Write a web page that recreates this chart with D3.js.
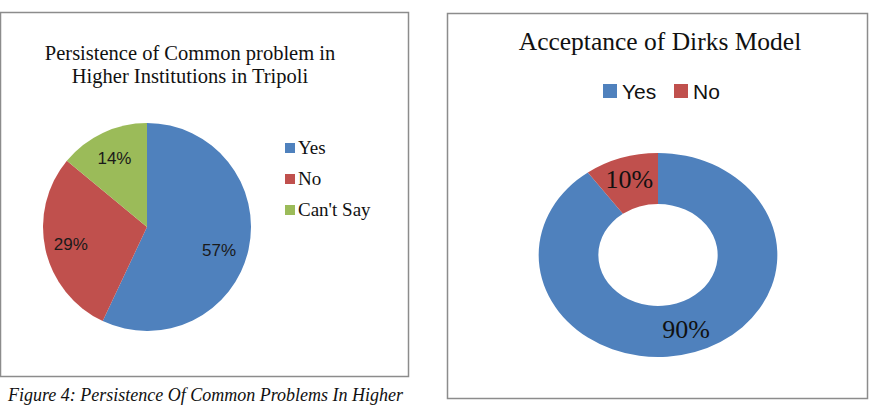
<!DOCTYPE html>
<html>
<head>
<meta charset="utf-8">
<script src="https://cdn.jsdelivr.net/npm/d3@7"></script>
<style>
  body { margin: 0; background: #fff; }
  svg { display: block; }
</style>
</head>
<body>
<div id="chart"></div>
<script>
// data
var pieLabels = ["Yes", "No", "Can't Say"];
var pieValues = [57, 29, 14];
var donutLabels = ["Yes", "No"];
var donutValues = [90, 10];
var colors = ["#4F81BD", "#C0504D", "#9BBB59"];

var width = 874, height = 406;
var serif = "'Liberation Serif', 'Times New Roman', serif";
var sans = "'Liberation Sans', Arial, sans-serif";

var svg = d3.select("#chart")
    .append("svg")
    .attr("width", width)
    .attr("height", height);

var color = d3.scaleOrdinal().domain(pieLabels).range(colors);

// ---------- left panel: pie ----------
var left = svg.append("g");

left.append("rect")
    .attr("x", 0.5).attr("y", 12.5)
    .attr("width", 408).attr("height", 364)
    .attr("fill", "none")
    .attr("stroke", "#8c8c8c")
    .attr("stroke-width", 1.5);

left.append("text")
    .attr("x", 190).attr("y", 60)
    .attr("text-anchor", "middle")
    .style("font-family", serif)
    .style("font-size", "20.5px")
    .attr("fill", "#111")
    .text("Persistence of Common problem in");

left.append("text")
    .attr("x", 190).attr("y", 83)
    .attr("text-anchor", "middle")
    .style("font-family", serif)
    .style("font-size", "20.5px")
    .attr("fill", "#111")
    .text("Higher Institutions in Tripoli");

var pie = d3.pie().sort(null).value(function (d) { return d; });
var pieData = pie(pieValues);
var r1 = 104;

var pieG = left.append("g")
    .attr("transform", "translate(147,227)");

pieG.selectAll("path")
    .data(pieData)
    .join("path")
    .attr("d", d3.arc().innerRadius(0).outerRadius(r1))
    .attr("fill", function (d, i) { return color(pieLabels[i]); });

// label radius and a small nudge so they sit where the original ones are
var pieLabelR = [0.71, 0.75, 0.735];
var pieLabelDy = [7, 0, 0];

pieG.selectAll("text.lbl")
    .data(pieData)
    .join("text")
    .attr("class", "lbl")
    .attr("transform", function (d, i) {
        var a = d3.arc().innerRadius(r1 * pieLabelR[i]).outerRadius(r1 * pieLabelR[i]);
        var c = a.centroid(d);
        return "translate(" + c[0] + "," + (c[1] + pieLabelDy[i]) + ")";
    })
    .attr("text-anchor", "middle")
    .attr("dy", "0.35em")
    .style("font-family", sans)
    .style("font-size", "17px")
    .attr("fill", "#1a1a1a")
    .text(function (d) { return d.data + "%"; });

var legend1 = left.append("g")
    .attr("transform", "translate(285,148)");

legend1.selectAll("rect")
    .data(pieLabels)
    .join("rect")
    .attr("x", 0)
    .attr("y", function (d, i) { return i * 31 - 5; })
    .attr("width", 10).attr("height", 10)
    .attr("fill", function (d) { return color(d); });

legend1.selectAll("text")
    .data(pieLabels)
    .join("text")
    .attr("x", 13)
    .attr("y", function (d, i) { return i * 31 + 6; })
    .style("font-family", serif)
    .style("font-size", "19px")
    .attr("fill", "#111")
    .text(function (d) { return d; });

svg.append("text")
    .attr("x", 8).attr("y", 401)
    .style("font-family", serif)
    .style("font-style", "italic")
    .style("font-size", "18px")
    .attr("fill", "#111")
    .text("Figure 4: Persistence Of Common Problems In Higher");

// ---------- right panel: donut ----------
var right = svg.append("g");

right.append("rect")
    .attr("x", 447.5).attr("y", 13.5)
    .attr("width", 420).attr("height", 385)
    .attr("fill", "none")
    .attr("stroke", "#8c8c8c")
    .attr("stroke-width", 1.5);

right.append("text")
    .attr("x", 660).attr("y", 50)
    .attr("text-anchor", "middle")
    .style("font-family", serif)
    .style("font-size", "25.5px")
    .attr("fill", "#111")
    .text("Acceptance of Dirks Model");

var legend2 = right.append("g")
    .attr("transform", "translate(603,91)");

var legendX = [0, 71];

legend2.selectAll("rect")
    .data(donutLabels)
    .join("rect")
    .attr("x", function (d, i) { return legendX[i]; })
    .attr("y", -7)
    .attr("width", 14).attr("height", 14)
    .attr("fill", function (d) { return color(d); });

legend2.selectAll("text")
    .data(donutLabels)
    .join("text")
    .attr("x", function (d, i) { return legendX[i] + 19; })
    .attr("y", 7.5)
    .style("font-family", sans)
    .style("font-size", "21px")
    .attr("fill", "#111")
    .text(function (d) { return d; });

var donutData = pie(donutValues);
var r2 = 102;

// the original ring is a bit wider than tall
var donutG = right.append("g")
    .attr("transform", "translate(658,255) scale(1.17,1)");

donutG.selectAll("path")
    .data(donutData)
    .join("path")
    .attr("d", d3.arc().innerRadius(r2 * 0.5).outerRadius(r2))
    .attr("fill", function (d, i) { return color(donutLabels[i]); });

var donutLabelR = [0.76, 0.78];

right.selectAll("text.dlbl")
    .data(donutData)
    .join("text")
    .attr("class", "dlbl")
    .attr("transform", function (d, i) {
        var a = d3.arc().innerRadius(r2 * donutLabelR[i]).outerRadius(r2 * donutLabelR[i]);
        var c = a.centroid(d);
        return "translate(" + (658 + c[0] * 1.17) + "," + (255 + c[1]) + ")";
    })
    .attr("text-anchor", "middle")
    .attr("dy", "0.35em")
    .style("font-family", serif)
    .style("font-size", "26px")
    .attr("fill", "#111")
    .text(function (d) { return d.data + "%"; });
</script>
</body>
</html>
